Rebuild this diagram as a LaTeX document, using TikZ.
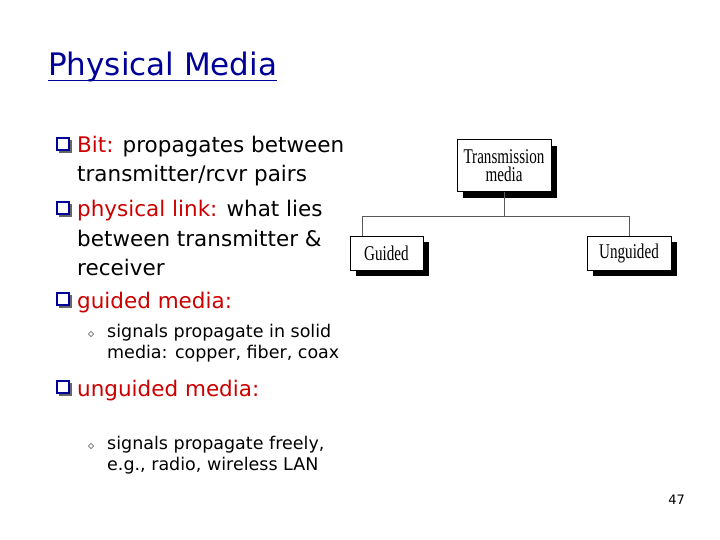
\documentclass[tikz,border=0pt]{standalone}
\usepackage{fontspec}
\setmainfont{DejaVu Sans}
\newfontfamily\serifbox{Liberation Serif}
\usepackage{amssymb}
\begin{document}
\begin{tikzpicture}[x=1pt,y=-1pt,
  txt/.style={anchor=base west,inner sep=0pt,font=\fontsize{21.5}{24}\selectfont},
  sub/.style={anchor=base west,inner sep=0pt,font=\fontsize{17.5}{20}\selectfont},
  red/.style={text=red!80!black},
  bx/.style={draw,line width=1pt,fill=white,font=\serifbox\fontsize{21}{21}\selectfont,align=center,inner sep=0pt}]
\useasboundingbox (0,0) rectangle (720,540);
\node[anchor=base west,inner sep=0pt,text=blue!60!black,font=\fontsize{31}{34}\selectfont] (title) at (48,76) {Physical Media};
\draw[blue!60!black,line width=1pt] (48,81) -- (title.east |- 0,81);
\newcommand\bul[2]{\fill[black!60] (#1+2,#2-13) rectangle (#1+15,#2); \draw[blue!60!black,fill=white,line width=1.2pt] (#1,#2-15) rectangle (#1+12,#2-3);}
\bul{57}{153}\bul{57}{217}\bul{57}{308}\bul{57}{396}
\node[txt] (b1) at (77,153) {\textcolor{red!80!black}{Bit:} propagates between};
\node[txt] (b1b) at (77,182) {transmitter/rcvr pairs};
\node[txt] (b2) at (77,217) {\textcolor{red!80!black}{physical link:} what lies};
\node[txt] (b2b) at (77,246) {between transmitter \&};
\node[txt] (b2c) at (77,275) {receiver};
\node[txt,red] (b3) at (77,308) {guided media:};
\node[sub] at (88,337) {\large$\diamond$};
\node[sub] (s1) at (107,337) {signals propagate in solid};
\node[sub] (s1b) at (107,358) {media: copper, fiber, coax};
\node[txt,red] (b4) at (77,396) {unguided media:};
\node[sub] at (88,449) {\large$\diamond$};
\node[sub] (s2) at (107,449) {signals propagate freely,};
\node[sub] (s2b) at (107,470) {e.g., radio, wireless LAN};
\node[anchor=base east,inner sep=0pt,font=\fontsize{13}{14}\selectfont] (pg) at (685,504) {47};
% diagram
\fill (463,146) rectangle (557,198);
\fill (356,242) rectangle (429,276);
\fill (593,242) rectangle (677,276);
\node[bx,minimum width=94pt,minimum height=52pt] (tm) at (504,166) {\scalebox{0.72}[1]{Transmission}\\[-3pt]\scalebox{0.72}[1]{media}};
\node[bx,minimum width=73pt,minimum height=34pt] (gd) at (386.5,253) {\scalebox{0.72}[1]{Guided}};
\node[bx,minimum width=84pt,minimum height=34pt] (ug) at (629,253) {\scalebox{0.72}[1]{Unguided}};
\coordinate (j) at (tm.south |- 0,216);
\draw[gray!70!black,line width=0.8pt] (tm.south) -- (j);
\draw[gray!70!black,line width=0.8pt] (gd.north) ++(-24,0) coordinate (gl) -- (gl |- j) -- (ug.north |- j) -- (ug.north);
\end{tikzpicture}
\end{document}
